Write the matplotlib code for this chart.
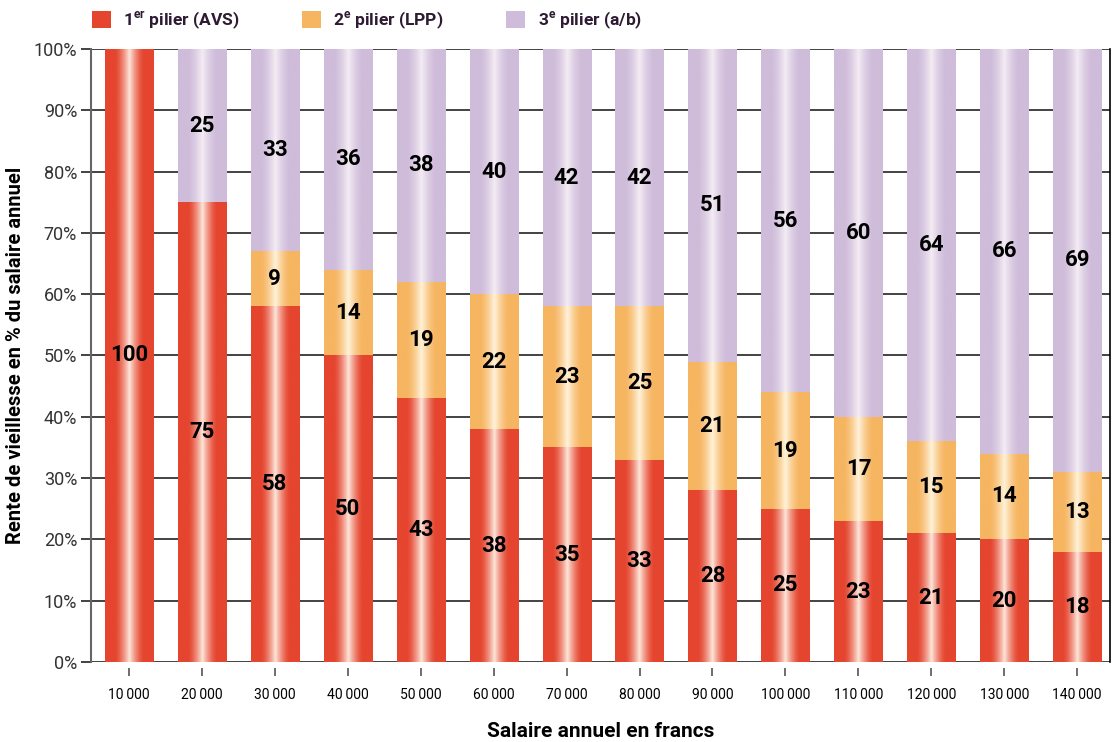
import numpy as np
import matplotlib
matplotlib.use("Agg")
import matplotlib.pyplot as plt
from matplotlib.colors import LinearSegmentedColormap
from matplotlib.patches import Patch

plt.rcParams['font.family'] = ['Roboto', 'DejaVu Sans']
plt.rcParams['mathtext.fontset'] = 'custom'
plt.rcParams['mathtext.rm'] = 'Roboto'
plt.rcParams['mathtext.bf'] = 'Roboto:bold'

# data
salaires = ['10\u2009000', '20\u2009000', '30\u2009000', '40\u2009000', '50\u2009000',
            '60\u2009000', '70\u2009000', '80\u2009000', '90\u2009000', '100\u2009000',
            '110\u2009000', '120\u2009000', '130\u2009000', '140\u2009000']
avs = [100, 75, 58, 50, 43, 38, 35, 33, 28, 25, 23, 21, 20, 18]
lpp = [0, 0, 9, 14, 19, 22, 23, 25, 21, 19, 17, 15, 14, 13]
pilier3 = [0, 25, 33, 36, 38, 40, 42, 42, 51, 56, 60, 64, 66, 69]

series = [
    (avs, '#e5452f', '#fde6da', '1$^{\\mathbf{er}}$ pilier (AVS)'),
    (lpp, '#f6b560', '#fff2da', '2$^{\\mathbf{e}}$ pilier (LPP)'),
    (pilier3, '#cfbcda', '#f4ecf4', '3$^{\\mathbf{e}}$ pilier (a/b)'),
]

fig = plt.figure(figsize=(11.19, 7.42), dpi=100)
ax = fig.add_axes([0.0813, 0.1078, 0.9107, 0.8262])

# horizontal "cylinder" shading
xs = np.linspace(-1, 1, 256)
shade = np.clip(1 - np.abs(xs) / 0.6, 0, 1) ** 1.5
grad = shade[np.newaxis, :]

w = 0.66
bottom = np.zeros(len(avs))
for vals, col, light, lab in series:
    cmap = LinearSegmentedColormap.from_list('c', [col, light])
    for i, v in enumerate(vals):
        if v <= 0:
            continue
        ax.imshow(grad, cmap=cmap, vmin=0, vmax=1, aspect='auto',
                  extent=[i - w / 2, i + w / 2, bottom[i], bottom[i] + v],
                  interpolation='bilinear', zorder=2)
        ax.text(i, bottom[i] + v / 2, str(v), ha='center', va='center',
                fontsize=16, fontweight='bold', color='black', zorder=3)
    bottom += np.array(vals)

ax.set_xlim(-0.52, 13.45)
ax.set_ylim(0, 100)
ax.set_yticks(range(0, 101, 10))
ax.set_yticklabels([f'{v}%' for v in range(0, 101, 10)], fontsize=13, color='#333333')
ax.set_xticks(range(len(salaires)))
ax.set_xticklabels(salaires, fontsize=13.5, color='#333333')

ax.yaxis.grid(True, color='#222222', lw=1.2)
ax.set_axisbelow(True)

ax.spines['top'].set_visible(False)
ax.spines['right'].set_color('black')
ax.spines['right'].set_linewidth(1.2)
ax.spines['left'].set_color('#666666')
ax.spines['left'].set_linewidth(1.5)
ax.spines['bottom'].set_position(('outward', 4))
ax.spines['bottom'].set_visible(False)

ax.tick_params(axis='y', length=7, width=1.2, color='#222222', pad=3)
ax.tick_params(axis='x', length=6, width=1.2, color='#555555', pad=9)

ax.set_ylabel('Rente de vieillesse en % du salaire annuel', fontsize=14.5,
              fontweight='bold', labelpad=6)
ax.set_xlabel('Salaire annuel en francs', fontsize=15, fontweight='bold', labelpad=14)

handles = [Patch(facecolor=col, edgecolor='none', label=lab) for _, col, _, lab in series]
leg = fig.legend(handles=handles, loc='upper left', bbox_to_anchor=(0.068, 1.008),
                 ncol=3, frameon=False, handlelength=1.1, handleheight=1.1,
                 handletextpad=0.7, columnspacing=3.6,
                 prop={'weight': 'bold', 'size': 12.5})
for t in leg.get_texts():
    t.set_color('#2e1a32')

fig.savefig('out.png', dpi=100)
